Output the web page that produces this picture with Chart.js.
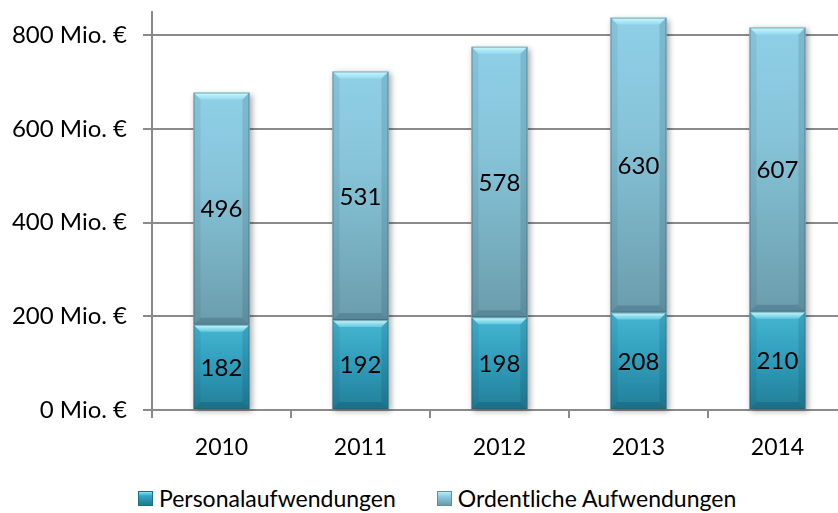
<!DOCTYPE html>
<html>
<head>
<meta charset="utf-8">
<script src="https://cdn.jsdelivr.net/npm/chart.js@4/dist/chart.umd.min.js"></script>
<style>
html, body { margin: 0; padding: 0; background: #fff; width: 838px; height: 513px; overflow: hidden; }
#wrap { position: absolute; left: 0; top: 0; width: 847px; height: 460px; }
#legend { position: absolute; left: 138px; top: 484px; display: flex; align-items: center;
  font-family: Lato, sans-serif; font-size: 23px; color: #000; white-space: nowrap; }
.item { display: flex; align-items: center; margin-right: 41px; }
.box { width: 15px; height: 15px; margin-right: 6px; box-sizing: border-box; }
.b1 { background: linear-gradient(to bottom, #7fe3f6 0%, #34a6c3 30%, #1f7891 100%); border: 1px solid #1d6f86; }
.b2 { background: linear-gradient(to bottom, #b8ecf7 0%, #8acbe1 35%, #6a9cab 100%); border: 1px solid #5f8e9c; }
</style>
</head>
<body>
<div id="wrap"><canvas id="chart"></canvas></div>
<div id="legend">
  <div class="item"><span class="box b1"></span><span>Personalaufwendungen</span></div>
  <div class="item"><span class="box b2"></span><span>Ordentliche Aufwendungen</span></div>
</div>
<script>
// Daten (Mio. €)
const years = ['2010', '2011', '2012', '2013', '2014'];
const personal = [182, 192, 198, 208, 210];
const ordentlich = [496, 531, 578, 630, 607];
const seriesNames = ['Personalaufwendungen', 'Ordentliche Aufwendungen'];
const yTicks = [0, 200, 400, 600, 800];

const FONT = 'Lato, sans-serif';
const AXIS = '#8a8a8a';

// Verlauf pro Balken (wie Excel-Formatierung)
function barGradient(stops) {
    return function(ctx) {
        const chart = ctx.chart;
        const y = chart.scales.y;
        if (ctx.type !== 'data' || !y) return stops[1][1];
        const i = ctx.dataIndex;
        const base = ctx.datasetIndex === 0 ? 0 : personal[i];
        const top = base + ctx.raw;
        const y0 = y.getPixelForValue(top), y1 = y.getPixelForValue(base);
        if (!isFinite(y0) || !isFinite(y1) || y0 === y1) return stops[1][1];
        const g = chart.ctx.createLinearGradient(0, y0, 0, y1);
        stops.forEach(s => g.addColorStop(s[0], s[1]));
        return g;
    };
}

// Schatten + Fasen-Effekt
const bevelPlugin = {
    id: 'bevel',
    beforeDatasetsDraw(chart) {
        const c = chart.ctx;
        c.save();
        chart.data.datasets.forEach((ds, di) => {
            chart.getDatasetMeta(di).data.forEach(bar => {
                const l = bar.x - bar.width / 2;
                c.shadowColor = 'rgba(0,0,0,0.35)';
                c.shadowBlur = 6;
                c.shadowOffsetX = 2;
                c.shadowOffsetY = 2;
                c.fillStyle = '#fff';
                c.fillRect(l, bar.y, bar.width, bar.base - bar.y);
            });
        });
        c.restore();
    },
    afterDatasetsDraw(chart) {
        const c = chart.ctx;
        const b = 7;
        chart.data.datasets.forEach((ds, di) => {
            chart.getDatasetMeta(di).data.forEach(bar => {
                const l = bar.x - bar.width / 2, r = bar.x + bar.width / 2;
                const t = bar.y, btm = bar.base;
                c.save();
                // oben hell
                c.beginPath();
                c.moveTo(l, t); c.lineTo(r, t); c.lineTo(r - b, t + b); c.lineTo(l + b, t + b); c.closePath();
                const gt = c.createLinearGradient(0, t, 0, t + b);
                gt.addColorStop(0, 'rgba(215,255,255,0.95)');
                gt.addColorStop(1, 'rgba(170,240,255,0.35)');
                c.fillStyle = gt; c.fill();
                // unten dunkel
                c.beginPath();
                c.moveTo(l, btm); c.lineTo(r, btm); c.lineTo(r - b, btm - b); c.lineTo(l + b, btm - b); c.closePath();
                c.fillStyle = 'rgba(0,40,60,0.18)'; c.fill();
                // Seiten
                c.beginPath();
                c.moveTo(l, t); c.lineTo(l + b, t + b); c.lineTo(l + b, btm - b); c.lineTo(l, btm); c.closePath();
                c.fillStyle = 'rgba(0,30,50,0.07)'; c.fill();
                c.beginPath();
                c.moveTo(r, t); c.lineTo(r - b, t + b); c.lineTo(r - b, btm - b); c.lineTo(r, btm); c.closePath();
                c.fillStyle = 'rgba(0,30,50,0.12)'; c.fill();
                c.strokeStyle = 'rgba(40,90,110,0.5)';
                c.lineWidth = 1;
                c.strokeRect(l + 0.5, t + 0.5, bar.width - 1, btm - t - 1);
                c.restore();
            });
        });
        // Werte
        c.save();
        c.font = '24px ' + FONT;
        c.fillStyle = '#000';
        c.textAlign = 'center';
        c.textBaseline = 'middle';
        chart.data.datasets.forEach((ds, di) => {
            chart.getDatasetMeta(di).data.forEach((bar, i) => {
                c.fillText(String(ds.data[i]), bar.x, (bar.y + bar.base) / 2 + 1);
            });
        });
        c.restore();
    }
};

new Chart(document.getElementById('chart'), {
    type: 'bar',
    data: {
        labels: years,
        datasets: [
            {
                label: seriesNames[0],
                data: personal,
                backgroundColor: barGradient([[0, '#45b6d2'], [0.5, '#2f9cba'], [1, '#237e97']]),
                borderWidth: 0
            },
            {
                label: seriesNames[1],
                data: ordentlich,
                backgroundColor: barGradient([[0, '#8fd0e7'], [0.4, '#86c3d8'], [1, '#6b9dac']]),
                borderWidth: 0
            }
        ]
    },
    options: {
        responsive: true,
        maintainAspectRatio: false,
        animation: false,
        layout: { padding: { top: 12, left: 0, right: 0, bottom: 0 } },
        categoryPercentage: 0.8,
        barPercentage: 0.504,
        plugins: { legend: { display: false }, tooltip: { enabled: false } },
        scales: {
            x: {
                stacked: true,
                grid: { drawOnChartArea: false, color: AXIS, lineWidth: 2, tickLength: 8 },
                border: { color: AXIS, width: 2 },
                ticks: { color: '#000', font: { family: FONT, size: 23 }, padding: 16 },
                afterFit(scale) { scale.height = 50; scale.paddingLeft = 0; scale.paddingRight = 0; }
            },
            y: {
                stacked: true,
                min: 0,
                max: 850,
                afterBuildTicks(scale) { scale.ticks = yTicks.map(v => ({ value: v })); },
                grid: { color: AXIS, lineWidth: 2, tickLength: 9 },
                border: { color: AXIS, width: 2 },
                ticks: {
                    color: '#000',
                    font: { family: FONT, size: 24 },
                    padding: 16,
                    callback: v => v + ' Mio. €'
                },
                afterFit(scale) { scale.width = 152; scale.paddingTop = 0; scale.paddingBottom = 0; }
            }
        }
    },
    plugins: [bevelPlugin]
});
</script>
</body>
</html>
